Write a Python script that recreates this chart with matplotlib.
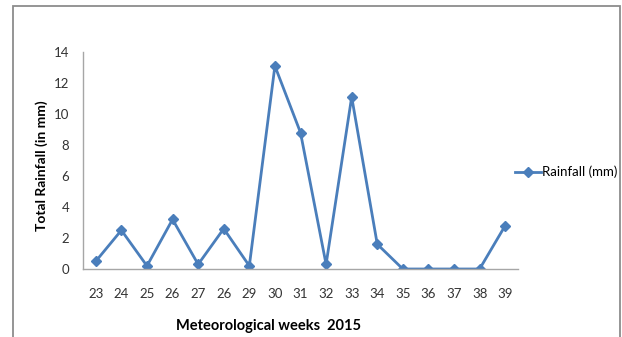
import matplotlib
matplotlib.use("Agg")
import matplotlib.pyplot as plt
from matplotlib.patches import Rectangle

# Weekly rainfall, as printed in the source (week "26" appears twice on its axis)
week_labels = ["23", "24", "25", "26", "27", "26", "29", "30", "31", "32",
               "33", "34", "35", "36", "37", "38", "39"]
rainfall = [0.5, 2.5, 0.2, 3.2, 0.3, 2.6, 0.2, 13.1, 8.8, 0.3,
            11.1, 1.6, 0.0, 0.0, 0.0, 0.0, 2.8]
y_ticks = [0, 2, 4, 6, 8, 10, 12, 14]

LINE_COLOR = "#4A7EBB"
AXIS_COLOR = "#A6A6A6"
FONT = "Lato"

fig = plt.figure(figsize=(6.22, 3.37), dpi=100)
fig.patch.set_facecolor("white")

# outer frame of the chart (bottom runs off the picture)
fig.add_artist(Rectangle((13 / 622, -0.05), (620 - 13) / 622, 1.05 - 6 / 337,
                         transform=fig.transFigure, fill=False,
                         edgecolor="#8C8C8C", linewidth=1.3))

ax = fig.add_axes([83 / 622, (337 - 269) / 337, (518 - 83) / 622, (269 - 52) / 337])

x = list(range(len(week_labels)))
ax.plot(x, rainfall, color=LINE_COLOR, linewidth=2.0, marker="D",
        markersize=5.5, label="Rainfall (mm)")

ax.set_xlim(-0.5, len(week_labels) - 0.5)
ax.set_ylim(0, 14)
ax.set_xticks(x)
ax.set_xticklabels(week_labels, fontname=FONT, fontsize=9.5, color="#333333")
ax.set_yticks(y_ticks)
ax.set_yticklabels([str(v) for v in y_ticks], fontname=FONT, fontsize=9.5, color="#333333")
ax.tick_params(axis="both", length=0)
ax.tick_params(axis="x", pad=14)
ax.tick_params(axis="y", pad=10)

for side in ["top", "right"]:
    ax.spines[side].set_visible(False)
for side in ["left", "bottom"]:
    ax.spines[side].set_color(AXIS_COLOR)
    ax.spines[side].set_linewidth(1.0)

fig.text(42 / 622, 1 - 166 / 337, "Total Rainfall (in mm)", rotation=90,
         ha="center", va="center", fontname=FONT, fontweight="bold", fontsize=10)
fig.text(268 / 622, 1 - 326 / 337, "Meteorological weeks  2015",
         ha="center", va="center", fontname=FONT, fontweight="bold", fontsize=10.5)

leg = ax.legend(loc="center left", bbox_to_anchor=(508 / 622, 1 - 172 / 337),
                bbox_transform=fig.transFigure, frameon=False,
                prop={"family": FONT, "size": 9.5}, handlelength=2.0,
                handletextpad=0.1, borderpad=0)

fig.savefig("out.png", dpi=100)
